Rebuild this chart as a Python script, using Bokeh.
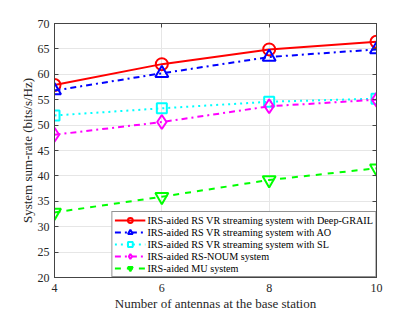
from bokeh.plotting import figure
from bokeh.models import LinearAxis, Range1d, FixedTicker, Legend, LegendItem
from bokeh.embed import file_html
from bokeh.resources import INLINE

antennas = [4, 6, 8, 10]
deep_grail = [57.9, 62.0, 64.9, 66.4]
ao = [56.8, 60.2, 63.4, 64.9]
sl = [51.9, 53.3, 54.6, 55.2]
noum = [48.1, 50.6, 53.7, 55.0]
mu = [32.8, 35.9, 39.2, 41.5]

labels = [
    "IRS-aided RS VR streaming system with Deep-GRAIL",
    "IRS-aided RS VR streaming system with AO",
    "IRS-aided RS VR streaming system with SL",
    "IRS-aided RS-NOUM system",
    "IRS-aided MU system",
]
x_ticks = [4, 6, 8, 10]
y_ticks = [20, 25, 30, 35, 40, 45, 50, 55, 60, 65, 70]

FONT = "Liberation Serif"

p = figure(width=399, height=304, output_backend="svg", toolbar_location=None,
           x_range=Range1d(4, 10), y_range=Range1d(20, 70),
           frame_width=322, frame_height=254,
           min_border_left=54, min_border_right=20, min_border_top=23, min_border_bottom=20)
p.background_fill_color = "white"
p.border_fill_color = "white"
p.outline_line_color = "#444444"
p.outline_line_width = 1

for ax in (p.xaxis[0], p.yaxis[0]):
    ax.major_label_text_font = FONT
    ax.major_label_text_font_size = "12px"
    ax.major_label_text_color = "#262626"
    ax.axis_label_text_font = FONT
    ax.axis_label_text_font_size = "13px"
    ax.axis_label_text_font_style = "normal"
    ax.axis_label_text_color = "#262626"
    ax.axis_line_color = "#444444"
    ax.major_tick_line_color = "#444444"
    ax.major_tick_in = 4
    ax.major_tick_out = 0
    ax.minor_tick_line_color = None
p.xaxis[0].ticker = FixedTicker(ticks=x_ticks)
p.yaxis[0].ticker = FixedTicker(ticks=y_ticks)
p.xaxis[0].axis_label = "Number of antennas at the base station"
p.yaxis[0].axis_label = "System sum-rate (bits/s/Hz)"
p.xaxis[0].axis_label_standoff = 1
p.yaxis[0].axis_label_standoff = 0
p.xaxis[0].major_label_standoff = 6
p.yaxis[0].major_label_standoff = 5

for loc in ("right", "above"):
    tks = y_ticks if loc == "right" else x_ticks
    ax = LinearAxis(ticker=FixedTicker(ticks=tks),
                    major_label_overrides={t: "" for t in tks},
                    axis_line_color="#444444",
                    major_tick_line_color="#444444", major_tick_in=4, major_tick_out=0,
                    minor_tick_line_color=None, major_label_standoff=0)
    p.add_layout(ax, loc)

p.xgrid.grid_line_color = "#e6e6e6"
p.ygrid.grid_line_color = "#e6e6e6"
p.xgrid.ticker = FixedTicker(ticks=x_ticks)
p.ygrid.ticker = FixedTicker(ticks=y_ticks)

series = [
    (deep_grail, "#ff0000", "solid", "circle", 12),
    (ao, "#0000ff", "dashdot", "triangle", 13),
    (sl, "#00ffff", "dotted", "square", 10),
    (noum, "#ff00ff", "dashdot", "diamond", 14),
    (mu, "#00ff00", "dashed", "inverted_triangle", 13),
]
items = []
for (vals, col, dash, mk, sz), lab in zip(series, labels):
    r1 = p.line(antennas, vals, line_color=col, line_width=2, line_dash=dash)
    r2 = p.scatter(antennas, vals, marker=mk, size=sz, line_color=col, line_width=2,
                   fill_color=None)
    items.append(LegendItem(label=lab, renderers=[r1, r2]))

legend = Legend(items=items, location="bottom_right")
legend.label_text_font = FONT
legend.label_text_font_size = "10.2px"
legend.label_text_color = "#000000"
legend.glyph_width = 31
legend.glyph_height = 12
legend.label_height = 12
legend.spacing = 0
legend.padding = 2
legend.margin = 0
legend.label_standoff = 2
legend.border_line_color = "#262626"
legend.border_line_width = 1
legend.background_fill_alpha = 1
p.add_layout(legend)

open("out.html", "w").write(file_html(p, INLINE))
